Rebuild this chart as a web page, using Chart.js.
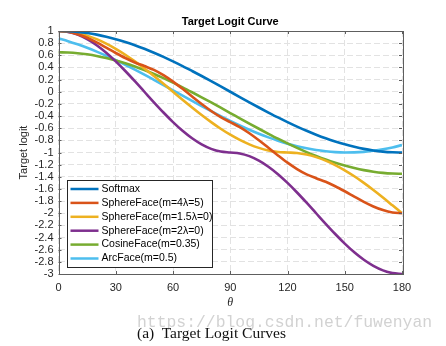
<!DOCTYPE html>
<html><head><meta charset="utf-8">
<script src="https://cdn.jsdelivr.net/npm/chart.js@4"></script>
<style>
html,body{margin:0;padding:0;background:#fff;}
#wrap{position:relative;width:446px;height:346px;overflow:hidden;}
canvas{position:absolute;left:0;top:0;}
#wm{position:absolute;left:137px;top:314px;font-family:"Liberation Mono",monospace;font-size:16.4px;color:#d2d2d2;white-space:nowrap;line-height:18px;}
#cap{position:absolute;left:137px;top:324px;font-family:"Liberation Serif",serif;font-size:15.5px;color:#111;white-space:pre;line-height:18px;}
</style></head>
<body><div id="wrap"><canvas id="c" width="446" height="346"></canvas><div id="wm">https://blog.csdn.net/fuwenyan</div><div id="cap">(a)  Target Logit Curves</div></div>
<script>
const thetas = [0,5,10,15,20,25,30,35,40,45,50,55,60,65,70,75,80,85,90,95,100,105,110,115,120,125,130,135,140,145,150,155,160,165,170,175,180];
const softmax = [1,0.996,0.985,0.966,0.940,0.906,0.866,0.819,0.766,0.707,0.643,0.574,0.5,0.423,0.342,0.259,0.174,0.087,0,-0.087,-0.174,-0.259,-0.342,-0.423,-0.5,-0.574,-0.643,-0.707,-0.766,-0.819,-0.866,-0.906,-0.940,-0.966,-0.985,-0.996,-1];
const sphereM4L5 = [1,0.987,0.948,0.888,0.812,0.726,0.638,0.555,0.482,0.423,0.359,0.272,0.167,0.048,-0.077,-0.201,-0.316,-0.417,-0.5,-0.583,-0.684,-0.799,-0.923,-1.048,-1.167,-1.272,-1.359,-1.423,-1.482,-1.555,-1.638,-1.726,-1.812,-1.888,-1.948,-1.987,-2];
const sphereM15 = [1,0.991,0.966,0.924,0.866,0.793,0.707,0.609,0.5,0.383,0.259,0.131,0,-0.131,-0.259,-0.383,-0.5,-0.609,-0.707,-0.793,-0.866,-0.924,-0.966,-0.991,-1,-1.009,-1.034,-1.076,-1.134,-1.207,-1.293,-1.391,-1.5,-1.617,-1.741,-1.870,-2];
const sphereM2 = [1,0.985,0.940,0.866,0.766,0.643,0.5,0.342,0.174,0,-0.174,-0.342,-0.5,-0.643,-0.766,-0.866,-0.940,-0.985,-1,-1.015,-1.060,-1.134,-1.234,-1.357,-1.5,-1.658,-1.826,-2,-2.174,-2.342,-2.5,-2.643,-2.766,-2.866,-2.940,-2.985,-3];
const cosineFace = [0.65,0.646,0.635,0.616,0.590,0.556,0.516,0.469,0.416,0.357,0.293,0.224,0.15,0.073,-0.008,-0.091,-0.176,-0.263,-0.35,-0.437,-0.524,-0.609,-0.692,-0.773,-0.85,-0.924,-0.993,-1.057,-1.116,-1.169,-1.216,-1.256,-1.290,-1.316,-1.335,-1.346,-1.35];
const arcFace = [0.878,0.833,0.781,0.724,0.661,0.593,0.520,0.444,0.364,0.282,0.197,0.111,0.024,-0.064,-0.150,-0.236,-0.320,-0.401,-0.479,-0.554,-0.625,-0.691,-0.751,-0.806,-0.854,-0.896,-0.931,-0.960,-0.980,-0.994,-1.000,-0.998,-0.989,-0.972,-0.948,-0.916,-0.878];
const seriesNames = ['Softmax','SphereFace(m=4λ=5)','SphereFace(m=1.5λ=0)','SphereFace(m=2λ=0)','CosineFace(m=0.35)','ArcFace(m=0.5)'];
const seriesColors = ['#0072BD','#D95319','#EDB120','#7E2F8E','#77AC30','#4DBEEE'];
const xTickValues = [0,30,60,90,120,150,180];
const yTickValues = [1,0.8,0.6,0.4,0.2,0,-0.2,-0.4,-0.6,-0.8,-1,-1.2,-1.4,-1.6,-1.8,-2,-2.2,-2.4,-2.6,-2.8,-3];
const seriesValues = [softmax, sphereM4L5, sphereM15, sphereM2, cosineFace, arcFace];

const AXIS = '#5e5e5e';
const TXT = '#262626';
const GRID = '#e2e2e2';

const frame = {
  id:'frame',
  afterDatasetsDraw(chart){
    const ctx = chart.ctx, a = chart.chartArea;
    const xs = chart.scales.x, ys = chart.scales.y;
    ctx.save();
    ctx.strokeStyle = AXIS; ctx.lineWidth = 1; ctx.setLineDash([]);
    ctx.beginPath();
    xTickValues.forEach(v=>{
      const px = Math.round(xs.getPixelForValue(v))+0.5;
      ctx.moveTo(px,a.bottom); ctx.lineTo(px,a.bottom-3);
      ctx.moveTo(px,a.top); ctx.lineTo(px,a.top+3);
    });
    yTickValues.forEach(v=>{
      const py = Math.round(ys.getPixelForValue(v))+0.5;
      ctx.moveTo(a.left,py); ctx.lineTo(a.left+3,py);
      ctx.moveTo(a.right,py); ctx.lineTo(a.right-3,py);
    });
    ctx.stroke();
    ctx.strokeRect(Math.round(a.left)+0.5, Math.round(a.top)+0.5, Math.round(a.right-a.left), Math.round(a.bottom-a.top));
    // legend box
    const lx = Math.round(a.left)+8.5, lw = 145, rowH = 13.9, lh = 87;
    const ly = Math.round(a.bottom) - 7 - lh + 0.5;
    ctx.fillStyle = '#fff';
    ctx.fillRect(lx, ly, lw, lh);
    ctx.strokeStyle = '#262626';
    ctx.strokeRect(lx, ly, lw, lh);
    ctx.font = '10.5px "Liberation Sans", Arial, sans-serif';
    ctx.textBaseline = 'middle'; ctx.textAlign = 'left';
    chart.data.datasets.forEach((d,i)=>{
      const cy = ly + 8.5 + i*rowH;
      ctx.strokeStyle = d.borderColor; ctx.lineWidth = 2.5;
      ctx.beginPath(); ctx.moveTo(lx+3, cy); ctx.lineTo(lx+31, cy); ctx.stroke();
      ctx.fillStyle = '#000';
      ctx.fillText(d.label, lx+34, cy);
    });
    ctx.restore();
  }
};

new Chart(document.getElementById('c'), {
  type:'line',
  data:{
    datasets: seriesValues.map((vals,i)=>({
      label: seriesNames[i],
      data: thetas.map((t,j)=>({x:t, y:vals[j]})),
      borderColor: seriesColors[i],
      backgroundColor: seriesColors[i],
      borderWidth: 2.6,
      pointRadius: 0,
      cubicInterpolationMode: 'monotone',
      fill: false
    }))
  },
  options:{
    responsive:false, animation:false, devicePixelRatio:1,
    layout:{padding:{left:0,right:44,top:0,bottom:32}},
    plugins:{
      legend:{display:false}, tooltip:{enabled:false},
      title:{display:true, text:'Target Logit Curve', fullSize:false, color:'#000',
        font:{family:'"Liberation Sans", Arial, sans-serif', size:11, weight:'bold', lineHeight:1.2},
        padding:{top:15.5, bottom:2.3}}
    },
    scales:{
      x:{type:'linear', min:0, max:180,
        afterBuildTicks: s=>{ s.ticks = xTickValues.map(v=>({value:v})); },
        afterFit: s=>{ s.height = 40; },
        ticks:{color:TXT, padding:7, maxRotation:0, font:{family:'"Liberation Sans", Arial, sans-serif', size:11}},
        grid:{color:GRID, drawTicks:false, lineWidth:1},
        border:{display:false, dash:[6,3]},
        title:{display:true, text:'θ', color:TXT, padding:{top:0,bottom:4},
          font:{family:'"Liberation Serif", serif', style:'italic', size:12}}
      },
      y:{type:'linear', min:-3, max:1,
        afterBuildTicks: s=>{ s.ticks = yTickValues.map(v=>({value:v})); },
        afterFit: s=>{ s.width = 58.5; },
        ticks:{color:TXT, padding:5, autoSkip:false,
          callback: v => String(Math.round(v*10)/10),
          font:{family:'"Liberation Sans", Arial, sans-serif', size:11}},
        grid:{color:GRID, drawTicks:false, lineWidth:1},
        border:{display:false, dash:[6,3]},
        title:{display:true, text:'Target logit', color:TXT, padding:{top:17,bottom:0},
          font:{family:'"Liberation Sans", Arial, sans-serif', size:11}}
      }
    }
  },
  plugins:[frame]
});
</script>
</body></html>
